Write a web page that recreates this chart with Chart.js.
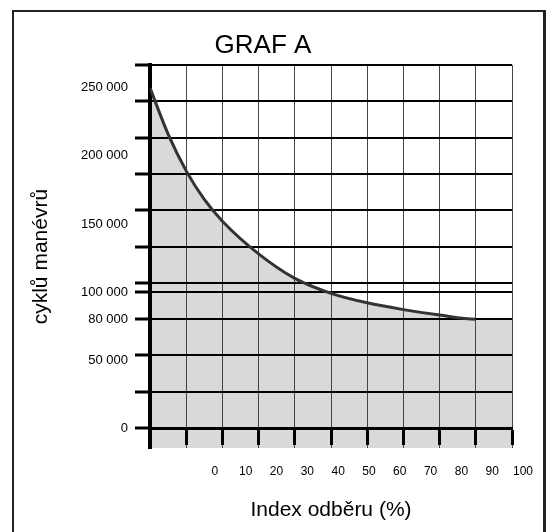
<!DOCTYPE html>
<html lang="cs">
<head>
<meta charset="utf-8">
<title>Graf A</title>
<script src="https://cdn.jsdelivr.net/npm/chart.js@4.4.1/dist/chart.umd.min.js"></script>
<style>
  body { margin: 0; background: #fff; }
  #wrap { position: relative; width: 549px; height: 532px; overflow: hidden; }
  #myChart { display: block; }
  #frame { position: absolute; left: 12px; top: 10px; width: 529px; height: 600px;
           border: 2px solid #222; border-right-width: 3px; pointer-events: none; }
</style>
</head>
<body>
<div id="wrap">
  <canvas id="myChart" width="549" height="532"></canvas>
  <div id="frame"></div>
</div>
<script>
'use strict';

let ctx = document.getElementById('myChart');

// ***** DATA *****
let indexValues = [0, 5, 10, 15, 20, 30, 40, 50, 60, 70, 80, 90, 100];
let cycleValues = [250000, 216000, 189000, 168000, 152000, 128000, 110000, 99000, 92000, 87000, 83000, 80000, 80000];
let lineEndIndex = 11; // curve stops at 90 %, only the grey area goes on

let yTickLabels = [0, 50000, 80000, 100000, 150000, 200000, 250000];
let xTickLabels = [0, 10, 20, 30, 40, 50, 60, 70, 80, 90, 100];
let extraGridLines = [100000];

// grid has 10 x 10 squares, 3 squares = 80 000
let ySquare = 80000 / 3;
let yMax = ySquare * 10;
let yMin = -14700; // grey band below the axis line

// **** HELPERS ****
function formatCycles(value){
  return String(Math.round(value)).replace(/\B(?=(\d{3})+(?!\d))/g, ' ');
}

function buildYTicks(scale){
  let ticks = [];
  for(let i = 0; i <= 10; i++){
    ticks.push({ value: i * ySquare, grid: true });
  }
  extraGridLines.forEach(v => ticks.push({ value: v, grid: true }));
  yTickLabels.forEach(v => {
    let same = ticks.find(t => Math.abs(t.value - v) < 1);
    if(same){
      same.showLabel = true;
    } else {
      ticks.push({ value: v, showLabel: true });
    }
  });
  ticks.sort((a, b) => a.value - b.value);
  scale.ticks = ticks;
}

function gridColor(c){
  return (c.tick && c.tick.grid) ? '#000' : 'rgba(0,0,0,0)';
}

// **** CHART ****
Chart.defaults.font.family = 'Arial, "Liberation Sans", sans-serif';
Chart.defaults.color = '#000';

let chartObj = {
  type: 'line',
  data: {
    datasets: [{
      label: 'cykly',
      data: indexValues.map((x, i) => ({ x: x, y: cycleValues[i] })),
      borderColor: '#333',
      borderWidth: 3,
      backgroundColor: '#d9d9d9',
      fill: 'start',
      pointRadius: 0,
      cubicInterpolationMode: 'monotone',
      segment: {
        borderColor: c => c.p0DataIndex >= lineEndIndex ? 'rgba(0,0,0,0)' : '#333'
      }
    }]
  },
  options: {
    responsive: false,
    animation: false,
    devicePixelRatio: 1,
    layout: { padding: { left: 14, right: 37, top: 20, bottom: 0 } },
    plugins: {
      legend: { display: false },
      tooltip: { enabled: false },
      filler: { drawTime: 'beforeDraw' },
      title: {
        display: true,
        text: 'GRAF A',
        font: { size: 26, weight: 'normal' },
        padding: { top: 10, bottom: 4 }
      }
    },
    scales: {
      x: {
        type: 'linear',
        min: 0,
        max: 100,
        position: { y: 0 },
        ticks: { display: false, stepSize: 10 },
        grid: { color: '#444', lineWidth: 1, tickLength: 15, tickWidth: 3, tickColor: '#000' },
        border: { color: '#000', width: 3 }
      },
      xl: {
        type: 'linear',
        axis: 'x',
        position: 'bottom',
        min: -17.5,
        max: 100,
        afterBuildTicks: scale => { scale.ticks = xTickLabels.map(v => ({ value: v })); },
        afterFit: scale => { scale.height = 84; },
        grid: { display: false, drawTicks: false },
        border: { display: false },
        ticks: { padding: 16, labelOffset: 11, autoSkip: false, maxRotation: 0, font: { size: 12 } },
        title: {
          display: true,
          text: 'Index odběru (%)',
          font: { size: 21 },
          padding: { top: 0, bottom: 9 }
        }
      },
      y: {
        type: 'linear',
        min: yMin,
        max: yMax,
        afterBuildTicks: buildYTicks,
        afterFit: scale => { scale.width = 136; },
        ticks: {
          autoSkip: false,
          padding: 7,
          font: { size: 13 },
          callback: function(value, index, ticks){
            return ticks[index].showLabel ? formatCycles(value) : '';
          }
        },
        grid: { color: gridColor, lineWidth: 2, tickLength: 15, tickWidth: 3, tickColor: gridColor },
        border: { color: '#000', width: 4 },
        title: {
          display: true,
          text: 'cyklů manévrů',
          font: { size: 21 },
          padding: { top: 15, bottom: 0 }
        }
      }
    }
  }
};

new Chart(ctx, chartObj);
</script>
</body>
</html>
